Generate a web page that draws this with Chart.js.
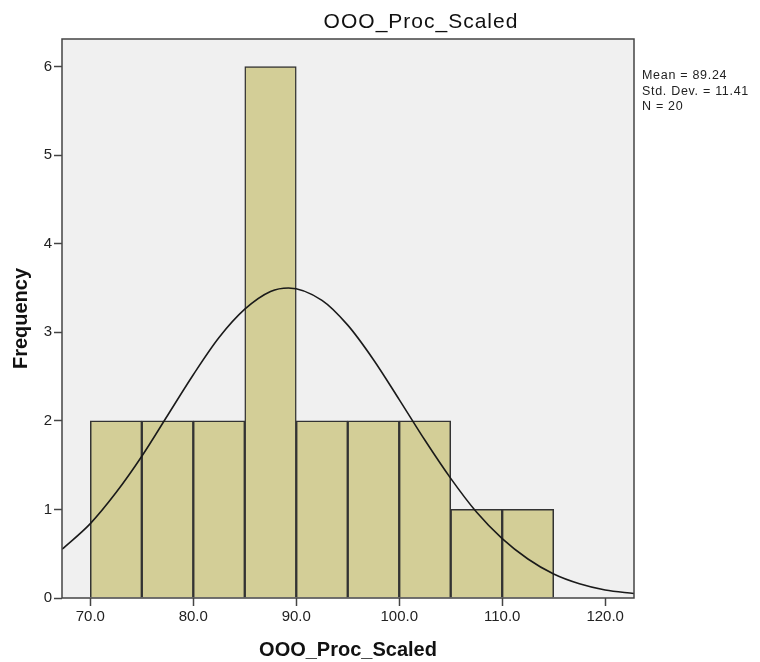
<!DOCTYPE html>
<html>
<head>
<meta charset="utf-8">
<script src="https://cdn.jsdelivr.net/npm/chart.js@4/dist/chart.umd.min.js"></script>
<style>
html,body{margin:0;padding:0;background:#fff;}
#wrap{width:760px;height:662px;position:relative;}
</style>
</head>
<body>
<div id="wrap"><canvas id="c" width="760" height="662"></canvas></div>
<script>
// ---- data ----
const chartTitle = 'OOO_Proc_Scaled';
const xAxisTitle = 'OOO_Proc_Scaled';
const yAxisTitle = 'Frequency';
const binCenters = [72.5, 77.5, 82.5, 87.5, 92.5, 97.5, 102.5, 107.5, 112.5];
const frequencies = [2, 2, 2, 6, 2, 2, 2, 1, 1];
const curveX = [67.25, 70, 72.5, 75, 77.5, 80, 82.5, 85, 87.5, 89.24, 92.5, 95, 97.5, 100, 102.5, 105, 107.5, 110, 112.5, 115, 117.5, 120, 122.8];
const curveY = [0.55, 0.84, 1.19, 1.60, 2.06, 2.52, 2.94, 3.26, 3.46, 3.50, 3.36, 3.08, 2.69, 2.24, 1.78, 1.35, 0.97, 0.67, 0.44, 0.27, 0.16, 0.09, 0.05];
const xTicks = [70, 80, 90, 100, 110, 120];
const yTicks = [0, 1, 2, 3, 4, 5, 6];
const statsLines = ['Mean = 89.24', 'Std. Dev. = 11.41', 'N = 20'];

const FONT = "'Liberation Sans', Arial, sans-serif";
const INK = '#222';
const FRAME = '#444';

const decor = {
  id: 'decor',
  beforeDraw(chart) {
    const {ctx, chartArea: a} = chart;
    ctx.save();
    ctx.fillStyle = '#f0f0f0';
    ctx.fillRect(a.left, a.top, a.right - a.left, a.bottom - a.top);
    ctx.restore();
  },
  afterDraw(chart) {
    const {ctx, chartArea: a} = chart;
    ctx.save();
    ctx.strokeStyle = FRAME;
    ctx.lineWidth = 1.5;
    ctx.strokeRect(a.left, a.top, a.right - a.left, a.bottom - a.top);
    ctx.fillStyle = '#111';
    ctx.textBaseline = 'alphabetic';
    ctx.textAlign = 'center';
    ctx.font = '500 21px ' + FONT;
    ctx.letterSpacing = '1px';
    ctx.fillText(chartTitle, 421, 28);
    ctx.fillStyle = INK;
    ctx.textBaseline = 'middle';
    ctx.textAlign = 'left';
    ctx.font = '12.5px ' + FONT;
    ctx.letterSpacing = '0.7px';
    statsLines.forEach((t, i) => ctx.fillText(t, 642, 76 + i * 15.5));
    ctx.restore();
  }
};

new Chart(document.getElementById('c'), {
  type: 'bar',
  data: {
    datasets: [
      {
        type: 'line',
        data: curveX.map((x, i) => ({x: x, y: curveY[i]})),
        borderColor: '#1a1a1a',
        borderWidth: 1.6,
        pointRadius: 0,
        fill: false,
        cubicInterpolationMode: 'monotone',
        order: 0
      },
      {
        type: 'bar',
        data: binCenters.map((x, i) => ({x: x, y: frequencies[i]})),
        backgroundColor: '#d3ce97',
        borderColor: '#333',
        borderWidth: 1.5,
        barPercentage: 1,
        categoryPercentage: 1,
        grouped: false,
        order: 1
      }
    ]
  },
  options: {
    responsive: false,
    animation: false,
    events: [],
    layout: {padding: {left: 0, right: 126, top: 39, bottom: 0}},
    plugins: {legend: {display: false}, tooltip: {enabled: false}, title: {display: false}},
    scales: {
      x: {
        type: 'linear',
        offset: false,
        min: 67.25,
        max: 122.8,
        afterBuildTicks(s) { s.ticks = xTicks.map(v => ({value: v})); },
        afterFit(s) { s.height = 64; },
        grid: {offset: false, drawOnChartArea: false, drawTicks: true, tickLength: 8, tickColor: FRAME, tickWidth: 1.5},
        border: {display: false},
        ticks: {
          padding: 2, color: INK, font: {family: FONT, size: 15},
          maxRotation: 0, autoSkip: false,
          callback: v => Number(v).toFixed(1)
        },
        title: {display: true, text: xAxisTitle, color: '#111', font: {family: FONT, size: 20, weight: 'bold'}, padding: {top: 0, bottom: 0}}
      },
      y: {
        type: 'linear',
        min: 0,
        max: 6.31,
        afterBuildTicks(s) { s.ticks = yTicks.map(v => ({value: v})); },
        afterFit(s) { s.width = 62; },
        grid: {drawOnChartArea: false, drawTicks: true, tickLength: 8, tickColor: FRAME, tickWidth: 1.5},
        border: {display: false},
        ticks: {padding: 2, color: INK, font: {family: FONT, size: 15}, autoSkip: false},
        title: {display: true, text: yAxisTitle, color: '#111', font: {family: FONT, size: 20, weight: 'bold'}, padding: {top: 9, bottom: 0}}
      }
    }
  },
  plugins: [decor]
});
</script>
</body>
</html>
